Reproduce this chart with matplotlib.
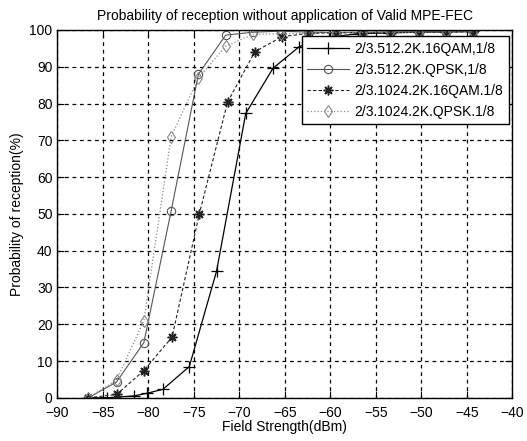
import matplotlib
matplotlib.use("Agg")
import matplotlib.pyplot as plt

plt.rcParams['font.family'] = ['Liberation Sans', 'DejaVu Sans']

title = "Probability of reception without application of Valid MPE-FEC"
xlabel = "Field Strength(dBm)"
ylabel = "Probability of reception(%)"

labels = ["2/3.512.2K.16QAM,1/8", "2/3.512.2K.QPSK,1/8",
          "2/3.1024.2K.16QAM.1/8", "2/3.1024.2K.QPSK.1/8"]

x1 = [-86.6, -84.6, -81.6, -80.2, -78.4, -75.5, -72.5, -69.3, -66.3, -63.4,
      -60.2, -57.0, -53.6, -50.3, -47.3, -44.3]
y1 = [0, 0, 0.5, 1.2, 2.3, 8.5, 34.5, 77.3, 89.6, 95.5,
      98.0, 99.0, 99.2, 99.4, 99.5, 99.6]

x2 = [-86.6, -83.5, -80.5, -77.5, -74.5, -71.5, -68.5, -65.4, -62.4, -59.4,
      -56.4, -53.4, -50.3, -47.3, -44.3]
y2 = [0, 4.3, 15.0, 50.8, 88.0, 98.6, 99.4, 99.7, 99.4, 99.3,
      99.4, 99.5, 99.5, 99.5, 99.6]

x3 = [-86.6, -83.5, -80.5, -77.4, -74.4, -71.3, -68.3, -65.3, -62.3, -59.4,
      -56.4, -53.3, -50.3, -47.3, -44.3]
y3 = [0, 0.9, 7.4, 16.5, 50.0, 80.4, 94.1, 98.2, 99.1, 99.2,
      99.3, 99.3, 99.4, 99.4, 99.5]

x4 = [-86.6, -83.5, -80.5, -77.5, -74.5, -71.5, -68.5, -65.4, -62.4, -59.4,
      -56.4, -53.4, -50.3, -47.3, -44.3]
y4 = [0, 4.8, 21.0, 71.0, 87.0, 95.6, 98.8, 99.0, 99.2, 99.3,
      99.3, 99.4, 99.4, 99.5, 99.5]

xticks = [-90, -85, -80, -75, -70, -65, -60, -55, -50, -45, -40]
yticks = [0, 10, 20, 30, 40, 50, 60, 70, 80, 90, 100]

fig = plt.figure(figsize=(5.27, 4.41), dpi=100)
ax = fig.add_axes([0.109, 0.098, 0.863, 0.834])

ax.plot(x1, y1, color='black', linestyle='-', linewidth=0.9,
        marker='+', markersize=9, markeredgewidth=0.9, label=labels[0])
ax.plot(x2, y2, color='#555555', linestyle='-', linewidth=0.8,
        marker='o', markersize=6, markerfacecolor='none', markeredgewidth=0.8,
        label=labels[1])
ax.plot(x3, y3, color='#222222', linestyle=(0, (3, 2)), linewidth=0.8,
        marker=(8, 2, 0), markersize=7, markeredgewidth=1.1, label=labels[2])
ax.plot(x4, y4, color='#888888', linestyle=':', linewidth=0.9,
        marker='d', markersize=6.5, markerfacecolor='none', markeredgewidth=0.8,
        label=labels[3])

ax.set_xlim(-90, -40)
ax.set_ylim(0, 100)
ax.set_xticks(xticks)
ax.set_yticks(yticks)
ax.tick_params(direction='in', labelsize=10, length=5, top=True, right=True)
ax.tick_params(axis='x', pad=6)
ax.grid(True, color='black', linestyle=(0, (3, 3)), linewidth=0.9)
for s in ax.spines.values():
    s.set_linewidth(1.0)

ax.set_title(title, fontsize=10, pad=7)
ax.set_xlabel(xlabel, fontsize=10, labelpad=0)
ax.set_ylabel(ylabel, fontsize=10, labelpad=4)

leg = ax.legend(loc='upper right', bbox_to_anchor=(0.992, 0.983), fontsize=10,
                frameon=True, fancybox=False, edgecolor='black', framealpha=1,
                handlelength=3.0, handletextpad=0.4, borderpad=0.4,
                labelspacing=0.5, borderaxespad=0)
leg.get_frame().set_linewidth(1.0)

fig.savefig("out.png", dpi=100)
